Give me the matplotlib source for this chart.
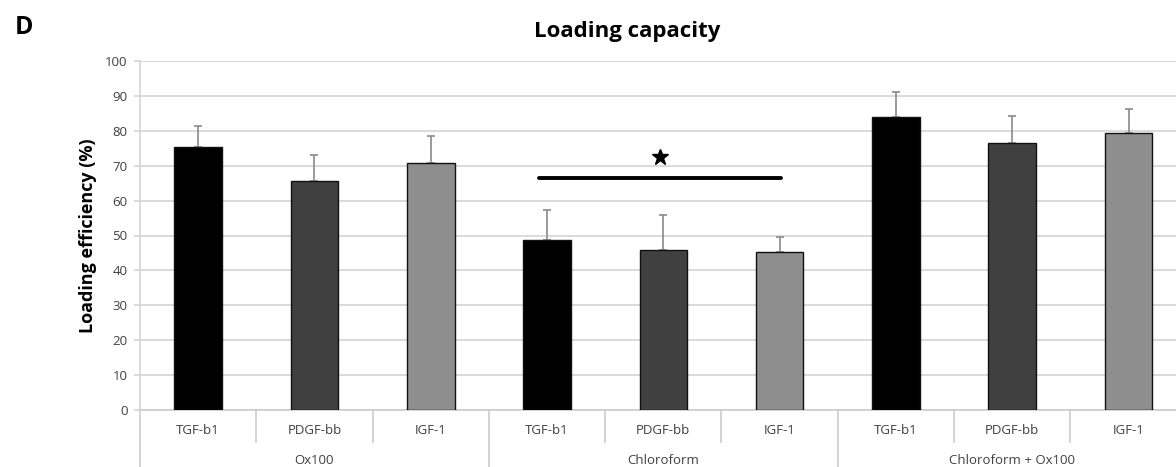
import matplotlib
matplotlib.use("Agg")
import matplotlib.pyplot as plt
import numpy as np

plt.rcParams['font.family'] = ['Open Sans', 'DejaVu Sans']

groups = ["Ox100", "Chloroform", "Chloroform + Ox100"]
factors = ["TGF-b1", "PDGF-bb", "IGF-1"]
values = [75.5, 65.6, 70.8, 48.8, 45.8, 45.2, 84.0, 76.6, 79.3]
err_up = [6.0, 7.5, 7.7, 8.4, 10.0, 4.3, 7.0, 7.6, 7.0]
bar_colors = ["#000000", "#404040", "#8e8e8e"]
yticks = list(range(0, 101, 10))
sig_level = 66.5
sig_span = (2.93, 5.01)

W, H = 1176, 467
fig = plt.figure(figsize=(W / 100, H / 100), dpi=100)
ax = fig.add_axes([140 / W, 1 - 410 / H, 1 - 140 / W, (410 - 61) / H])

n = len(values)
x = np.arange(n)
cols = [bar_colors[i % 3] for i in range(n)]
ax.bar(x, values, width=0.41, color=cols, edgecolor="#111111", linewidth=1.0, zorder=3)
ax.errorbar(x, values, yerr=[np.zeros(n), err_up], fmt="none", ecolor="#8a8a8a",
            elinewidth=1.2, capsize=3, capthick=1.2, zorder=2)

ax.set_ylim(0, 100)
xr = (W - 140) / 116.3 - 0.5
ax.set_xlim(-0.5, xr)
ax.set_yticks(yticks)
ax.set_yticklabels([str(t) for t in yticks], fontsize=9.5, color="#404040")
ax.yaxis.grid(True, color="#d4d4d4", linewidth=1.2, zorder=0)
ax.set_axisbelow(True)
for s in ["top", "right"]:
    ax.spines[s].set_visible(False)
ax.spines["left"].set_color("#d4d4d4")
ax.spines["left"].set_linewidth(1.2)
ax.spines["bottom"].set_color("#cccccc")
ax.spines["bottom"].set_linewidth(1.2)
ax.tick_params(axis="y", length=4, width=1.2, color="#d4d4d4", pad=5)
ax.set_xticks([])

trans = ax.get_xaxis_transform()
# sub-category labels and dividers
for i in range(n):
    ax.text(x[i], -0.06, factors[i % 3], transform=trans, ha="center", va="center",
            fontsize=9.5, color="#404040")
for k in range(n + 1):
    xb = k - 0.5
    if xb > xr:
        continue
    if k % 3 == 0:
        ax.plot([xb, xb], [0, -0.17], transform=trans, color="#cccccc", lw=1.2, clip_on=False)
    else:
        ax.plot([xb, xb], [0, -0.092], transform=trans, color="#cccccc", lw=1.2, clip_on=False)
for g, name in enumerate(groups):
    ax.text(3 * g + 1, -0.145, name, transform=trans, ha="center", va="center",
            fontsize=9.5, color="#404040")

# significance bar
ax.plot([sig_span[0], sig_span[1]], [sig_level, sig_level], color="black", lw=2.8,
        solid_capstyle="round", zorder=4)
ax.plot([(sig_span[0] + sig_span[1]) / 2], [sig_level + 6], marker="*", color="black",
        markersize=12, zorder=4)

ax.set_ylabel("Loading efficiency (%)", fontsize=13, fontweight="bold", labelpad=6)
fig.text(627 / W, 1 - 31 / H, "Loading capacity", ha="center", va="center",
         fontsize=16, fontweight="bold")
fig.text(24 / W, 1 - 28 / H, "D", ha="center", va="center", fontsize=18, fontweight="bold")

fig.savefig("out.png", dpi=100)
